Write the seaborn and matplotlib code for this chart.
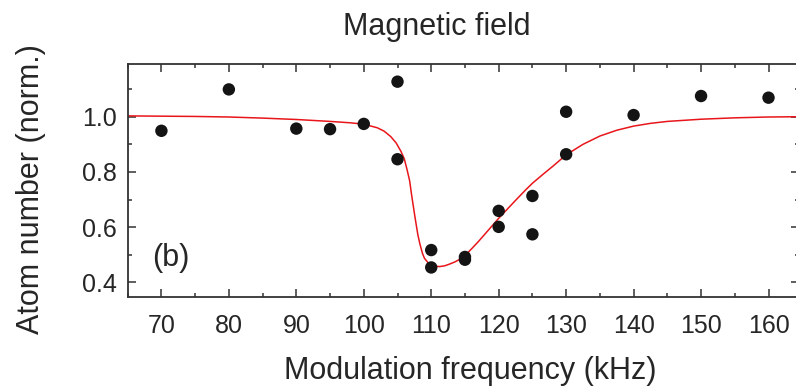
import matplotlib
matplotlib.use("Agg")
import matplotlib.pyplot as plt
from matplotlib.ticker import MultipleLocator
import numpy as np
import pandas as pd
import seaborn as sns

# Measured atom number after modulation (normalised)
freq_khz = [70, 80, 90, 95, 100, 105, 105, 110, 110, 115, 115, 120, 120,
            125, 125, 130, 130, 140, 150, 160]
atom_number = [0.949, 1.099, 0.957, 0.955, 0.974, 1.127, 0.846, 0.517, 0.454,
               0.492, 0.482, 0.659, 0.601, 0.713, 0.574, 1.018, 0.864,
               1.006, 1.075, 1.069]

# Fitted loss profile, sampled along the frequency axis
fit_khz = [65, 70, 75, 80, 85, 90, 95, 98, 100, 102, 103, 104, 104.8, 105.5,
           106.0, 106.4, 106.8, 107.1, 107.6, 108.0, 108.3, 108.7, 109.0,
           109.5, 110.0, 110.6, 111.2, 112.0, 112.7, 113.5, 114.2, 115.0,
           116.0, 117.0, 118.0, 119.0, 120.0, 121.0, 122.5, 124.0, 125.0,
           126.5, 128.0, 130.0, 132.5, 135.0, 137.5, 140.0, 142.5, 145.0,
           150.0, 155.0, 160.0, 164.5]
fit_atoms = [1.003, 1.002, 1.001, 0.999, 0.995, 0.990, 0.983, 0.978, 0.973,
             0.960, 0.948, 0.928, 0.905, 0.875, 0.848, 0.810, 0.768, 0.715,
             0.635, 0.575, 0.541, 0.505, 0.487, 0.472, 0.463, 0.459, 0.457,
             0.460, 0.466, 0.474, 0.483, 0.497, 0.522, 0.548, 0.576, 0.604,
             0.632, 0.658, 0.697, 0.735, 0.759, 0.790, 0.820, 0.862, 0.900,
             0.930, 0.951, 0.966, 0.976, 0.983, 0.991, 0.996, 0.999, 1.000]

x_ticks = [70, 80, 90, 100, 110, 120, 130, 140, 150, 160]
y_ticks = [0.4, 0.6, 0.8, 1.0]

points = pd.DataFrame({"freq": freq_khz, "atoms": atom_number})
fit = pd.DataFrame({"freq": fit_khz, "atoms": fit_atoms})

sns.set_theme(style="ticks")
plt.rcParams["font.family"] = ["Liberation Sans", "DejaVu Sans"]
text_color = "#262626"

fig = plt.figure(figsize=(7.96, 3.90), dpi=100)
ax = fig.add_axes([0.1604, 0.2392, 0.8432, 0.5967])

sns.lineplot(data=fit, x="freq", y="atoms", ax=ax, color="#e8161b",
             linewidth=1.1, sort=False, estimator=None, zorder=2)
sns.scatterplot(data=points, x="freq", y="atoms", ax=ax, color="#141414",
                s=80, edgecolor="none", zorder=3)

ax.set_xlim(65, 164.5)
ax.set_ylim(0.348, 1.191)
ax.set_xticks(x_ticks)
ax.set_xticklabels([str(t) for t in x_ticks])
ax.set_yticks(y_ticks)
ax.set_yticklabels([f"{t:.1f}" for t in y_ticks])
ax.xaxis.set_minor_locator(MultipleLocator(5))
ax.yaxis.set_minor_locator(MultipleLocator(0.1))

ax.tick_params(which="both", direction="in", top=True, right=True,
               color="#333333", width=1.1)
ax.tick_params(which="major", length=6, labelsize=18, labelcolor=text_color)
ax.tick_params(axis="x", which="major", pad=12.5)
ax.tick_params(axis="y", which="major", pad=8)
ax.tick_params(which="minor", length=3)
for spine in ax.spines.values():
    spine.set_color("#333333")
    spine.set_linewidth(1.3)

ax.set_xlabel("Modulation frequency (kHz)", fontsize=22, color=text_color,
              labelpad=13)
ax.xaxis.label.set_x(0.51)
ax.set_ylabel("Atom number (norm.)", fontsize=22, color=text_color)
ax.yaxis.set_label_coords(-0.121, 0.462)
fig.text(437 / 796, 1 - 35 / 390, "Magnetic field", fontsize=22,
         color=text_color, ha="center", va="baseline")
ax.text(68.6, 0.488, "(b)", fontsize=22, color=text_color, va="center",
        ha="left")

fig.savefig("out.png", dpi=100)
